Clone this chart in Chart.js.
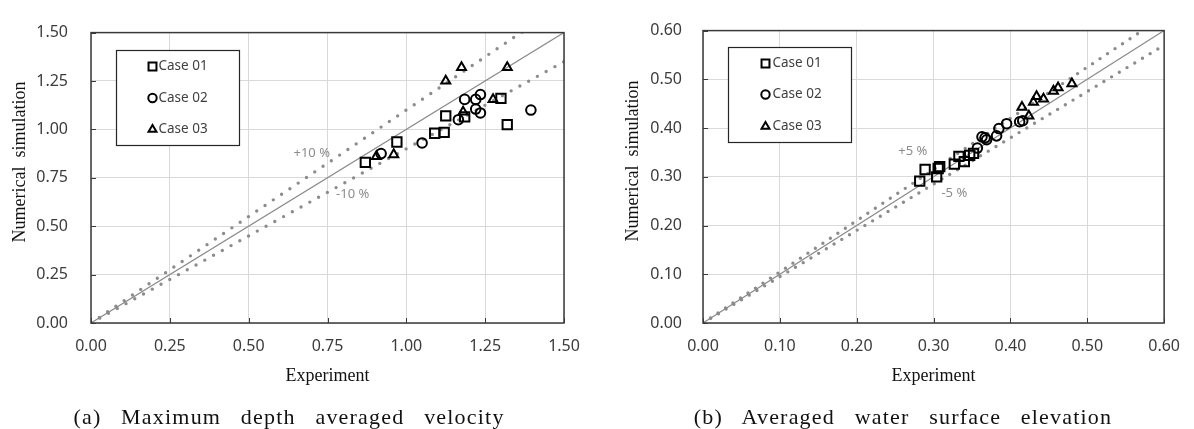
<!DOCTYPE html>
<html>
<head>
<meta charset="utf-8">
<script src="https://cdn.jsdelivr.net/npm/chart.js@4/dist/chart.umd.min.js"></script>
<style>
html,body{margin:0;padding:0;background:#fff;}
#wrap{position:relative;width:1194px;height:429px;overflow:hidden;background:#fff;}
canvas{position:absolute;top:0;}
.cap{position:absolute;top:403px;font-family:"Liberation Serif","DejaVu Serif",serif;font-size:22px;color:#111;white-space:nowrap;letter-spacing:1.2px;word-spacing:13px;transform:translateX(-50%);line-height:28px;}
</style>
</head>
<body>
<div id="wrap">
<canvas id="c1" width="597" height="429" style="left:0px"></canvas>
<canvas id="c2" width="597" height="429" style="left:597px"></canvas>
<div class="cap" style="left:289px">(a) Maximum depth averaged velocity</div>
<div class="cap" style="left:903px">(b) Averaged water surface elevation</div>
</div>
<script>
// ---------- data ----------
const seriesNames = ['Case 01', 'Case 02', 'Case 03'];

// (a) Maximum depth averaged velocity
const velTicks = [0, 0.25, 0.5, 0.75, 1.0, 1.25, 1.5];
const velTickLabels = ['0.00', '0.25', '0.50', '0.75', '1.00', '1.25', '1.50'];
const velCase01X = [0.87, 0.97, 1.09, 1.12, 1.125, 1.185, 1.30, 1.32];
const velCase01Y = [0.83, 0.935, 0.98, 0.985, 1.07, 1.065, 1.16, 1.025];
const velCase02X = [0.92, 1.05, 1.165, 1.185, 1.22, 1.235, 1.22, 1.235, 1.395];
const velCase02Y = [0.875, 0.93, 1.05, 1.155, 1.155, 1.18, 1.105, 1.085, 1.10];
const velCase03X = [0.905, 0.96, 1.125, 1.175, 1.32, 1.18, 1.275];
const velCase03Y = [0.86, 0.87, 1.25, 1.32, 1.32, 1.09, 1.155];
const velBandFactors = [1.10, 0.90];
const velBandLabels = ['+10 %', '-10 %'];

// (b) Averaged water surface elevation
const elevTicks = [0, 0.1, 0.2, 0.3, 0.4, 0.5, 0.6];
const elevTickLabels = ['0.00', '0.10', '0.20', '0.30', '0.40', '0.50', '0.60'];
const elevCase01X = [0.282, 0.289, 0.304, 0.306, 0.308, 0.327, 0.333, 0.340, 0.347, 0.352];
const elevCase01Y = [0.291, 0.315, 0.300, 0.317, 0.321, 0.326, 0.342, 0.331, 0.344, 0.348];
const elevCase02X = [0.357, 0.363, 0.367, 0.369, 0.382, 0.385, 0.395, 0.412, 0.416];
const elevCase02Y = [0.359, 0.382, 0.380, 0.376, 0.384, 0.399, 0.409, 0.413, 0.415];
const elevCase03X = [0.415, 0.424, 0.430, 0.434, 0.443, 0.456, 0.462, 0.480];
const elevCase03Y = [0.443, 0.425, 0.453, 0.465, 0.460, 0.476, 0.483, 0.491];
const elevBandFactors = [1.05, 0.95];
const elevBandLabels = ['+5 %', '-5 %'];

// ---------- styling / layout ----------
const markerStyles = ['rect', 'circle', 'triangle'];
const markerRadius = [6.6, 4.8, 5.2];
const legendRadius = [5.6, 4.2, 4.6];
const zip = (xs, ys) => xs.map((x, i) => ({x: x, y: ys[i]}));

const framePlugin = {
  id: 'frame',
  afterDraw(chart) {
    const {ctx, chartArea: a, scales} = chart;
    ctx.save();
    ctx.strokeStyle = '#3a3a3a';
    ctx.lineWidth = 1;
    scales.x.ticks.forEach(t => {
      const px = Math.round(scales.x.getPixelForValue(t.value)) + 0.5;
      ctx.beginPath(); ctx.moveTo(px, a.bottom); ctx.lineTo(px, a.bottom - 5); ctx.stroke();
    });
    scales.y.ticks.forEach(t => {
      const py = Math.round(scales.y.getPixelForValue(t.value)) + 0.5;
      ctx.beginPath(); ctx.moveTo(a.left, py); ctx.lineTo(a.left + 5, py); ctx.stroke();
    });
    ctx.lineWidth = 1.5;
    ctx.strokeRect(a.left, a.top, a.right - a.left, a.bottom - a.top);
    ctx.restore();
  }
};

const bandLabelPlugin = {
  id: 'bandLabels',
  afterDatasetsDraw(chart, args, opts) {
    const {ctx, scales} = chart;
    ctx.save();
    ctx.font = '13px "Noto Sans", sans-serif';
    ctx.fillStyle = '#8c8c8c';
    ctx.textAlign = 'center';
    ctx.textBaseline = 'middle';
    (opts.items || []).forEach(it => {
      ctx.fillText(it.text, scales.x.getPixelForValue(it.x), scales.y.getPixelForValue(it.y));
    });
    ctx.restore();
  }
};

const insetLegendPlugin = {
  id: 'insetLegend',
  afterDraw(chart, args, opts) {
    const {ctx, chartArea: a} = chart;
    const x0 = Math.round(a.left + opts.dx) + 0.5, y0 = Math.round(a.top + opts.dy) + 0.5;
    ctx.save();
    ctx.fillStyle = '#fff';
    ctx.fillRect(x0, y0, opts.w, opts.h);
    ctx.strokeStyle = '#262626';
    ctx.lineWidth = 1.2;
    ctx.strokeRect(x0, y0, opts.w, opts.h);
    ctx.font = '13.5px "Noto Sans", sans-serif';
    ctx.textBaseline = 'middle';
    ctx.textAlign = 'left';
    let k = 0;
    chart.data.datasets.forEach(ds => {
      if (!ds.inLegend) return;
      const y = y0 + opts.rows[k];
      ctx.fillStyle = 'rgba(0,0,0,0)';
      ctx.strokeStyle = '#000';
      ctx.lineWidth = 2;
      Chart.helpers.drawPoint(ctx, {pointStyle: ds.pointStyle, radius: legendRadius[k], borderWidth: 2, rotation: 0}, x0 + opts.markerX, y);
      ctx.fillStyle = '#404040';
      ctx.fillText(ds.label, x0 + opts.textX, y);
      k++;
    });
    ctx.restore();
  }
};

function makeChart(id, spec) {
  const datasets = [];
  spec.cases.forEach((c, i) => {
    datasets.push({
      label: seriesNames[i],
      inLegend: true,
      data: zip(c[0], c[1]),
      pointStyle: markerStyles[i],
      pointRadius: markerRadius[i],
      pointBorderWidth: 2,
      borderColor: '#000',
      backgroundColor: 'rgba(0,0,0,0)',
      showLine: false
    });
  });
  const maxV = spec.ticks[spec.ticks.length - 1];
  datasets.push({
    label: '1:1',
    data: [{x: 0, y: 0}, {x: maxV, y: maxV}],
    showLine: true, pointRadius: 0, borderColor: '#8a8a8a', borderWidth: 1.2, clip: 0
  });
  spec.bands.forEach(f => {
    datasets.push({
      label: 'band',
      data: [{x: 0, y: 0}, {x: maxV, y: maxV * f}],
      showLine: true, pointRadius: 0, borderColor: '#8c8c8c', borderWidth: 3.4,
      borderDash: [0, spec.dotGap], borderCapStyle: 'round', clip: 0
    });
  });
  const tickFont = {family: '"Noto Sans", sans-serif', size: 16};
  const titleFont = {family: '"Liberation Serif", "DejaVu Serif", serif', size: 18};
  return new Chart(document.getElementById(id), {
    type: 'scatter',
    data: {datasets},
    options: {
      responsive: false,
      animation: false,
      devicePixelRatio: 1,
      layout: {padding: spec.padding},
      plugins: {
        legend: {display: false},
        tooltip: {enabled: false},
        bandLabels: {items: spec.bandLabels},
        insetLegend: spec.legend
      },
      scales: {
        x: {
          type: 'linear', min: 0, max: maxV,
          afterBuildTicks: s => { s.ticks = spec.ticks.map(v => ({value: v})); },
          afterFit: s => { s.height = 64; },
          ticks: {callback: (v, i) => spec.tickLabels[i], font: tickFont, color: '#3c3c3c', padding: 14, maxRotation: 0},
          grid: {color: '#d9d9d9', lineWidth: 1, drawTicks: false},
          border: {display: false},
          title: {display: true, text: 'Experiment', font: titleFont, color: '#111', padding: {top: 0, bottom: 0}}
        },
        y: {
          type: 'linear', min: 0, max: maxV,
          afterBuildTicks: s => { s.ticks = spec.ticks.map(v => ({value: v})); },
          afterFit: s => { s.width = spec.yWidth; },
          ticks: {callback: (v, i) => spec.tickLabels[i], font: tickFont, color: '#3c3c3c', padding: spec.yPad},
          grid: {color: '#d9d9d9', lineWidth: 1, drawTicks: false},
          border: {display: false},
          title: {display: true, text: '\u00a0\u00a0\u00a0\u00a0\u00a0\u00a0\u00a0Numerical  simulation', font: titleFont, color: '#111', padding: {top: 9, bottom: 0}}
        }
      }
    },
    plugins: [framePlugin, bandLabelPlugin, insetLegendPlugin]
  });
}

makeChart('c1', {
  cases: [[velCase01X, velCase01Y], [velCase02X, velCase02Y], [velCase03X, velCase03Y]],
  ticks: velTicks, tickLabels: velTickLabels,
  bands: velBandFactors, dotGap: 10,
  bandLabels: [{text: velBandLabels[0], x: 0.70, y: 0.875}, {text: velBandLabels[1], x: 0.83, y: 0.663}],
  padding: {left: 0, top: 20, right: 33, bottom: 42},
  yWidth: 91, yPad: 23,
  legend: {dx: 25, dy: 17, w: 123, h: 95, markerX: 36, textX: 42, rows: [16, 47.5, 79]}
});

makeChart('c2', {
  cases: [[elevCase01X, elevCase01Y], [elevCase02X, elevCase02Y], [elevCase03X, elevCase03Y]],
  ticks: elevTicks, tickLabels: elevTickLabels,
  bands: elevBandFactors, dotGap: 9,
  bandLabels: [{text: elevBandLabels[0], x: 0.273, y: 0.352}, {text: elevBandLabels[1], x: 0.327, y: 0.267}],
  padding: {left: 16, top: 20, right: 17, bottom: 42},
  yWidth: 90, yPad: 21,
  legend: {dx: 25, dy: 16, w: 123, h: 95, markerX: 37, textX: 44, rows: [16, 47, 79]}
});
</script>
</body>
</html>
